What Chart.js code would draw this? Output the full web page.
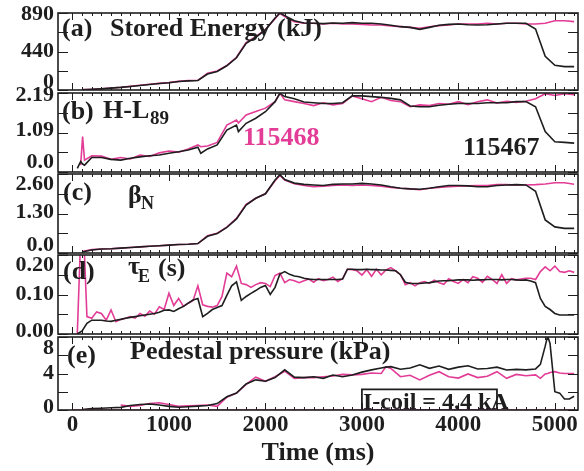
<!DOCTYPE html>
<html>
<head>
<meta charset="utf-8">
<script src="https://cdn.jsdelivr.net/npm/chart.js@4.4.1/dist/chart.umd.min.js"></script>
<style>
  body { margin: 0; background: #fff; }
  #wrap { position: relative; width: 584px; height: 471px; overflow: hidden;
          font-family: "Liberation Serif", "Times New Roman", serif; font-weight: bold; color: #1e1e1e; }
  #wrap canvas { position: absolute; left: 0; }
  .note { position: absolute; white-space: nowrap; line-height: 1; }
</style>
</head>
<body>
<div id="wrap">
  <canvas id="pa" width="584" height="109" style="top:-3px"></canvas>
  <canvas id="pb" width="584" height="111" style="top:77px"></canvas>
  <canvas id="pc" width="584" height="111" style="top:158px"></canvas>
  <canvas id="pd" width="584" height="111" style="top:239px"></canvas>
  <canvas id="pe" width="584" height="150" style="top:321px"></canvas>
</div>
<script>
// shot 115467 (black) and 115468 (magenta)
const timeA = [100,200,300,400,500,600,700,800,900,1000,1100,1200,1300,1400,1500,1600,1700,1800,1900,2000,
  2100,2150,2200,2300,2400,2500,2600,2700,2800,2900,3000,3100,3200,3300,3400,3500,3600,3700,3800,3900,
  4000,4100,4200,4300,4400,4500,4600,4700,4800,4900,5000,5100,5200];

// (a) stored energy, kJ
const energy115467 = [3,8,14,22,30,41,52,64,75,84,98,106,110,185,215,280,372,540,610,695,
  832,890,860,800,775,771,767,775,771,779,771,771,763,748,732,724,701,724,748,759,
  763,755,751,755,763,771,771,771,705,390,285,270,270];
const energy115468 = [5,8,15,23,31,42,54,66,77,85,100,108,112,193,220,285,378,547,616,700,
  825,887,848,790,771,771,763,771,763,763,759,751,751,740,732,724,713,732,744,751,
  763,763,763,771,763,771,771,763,763,771,801,801,790];

// (b) H-L89
const timeB = [50,85,105,125,200,300,400,500,600,700,800,900,1000,1100,1200,1300,1330,1400,1500,1600,1700,1720,
  1800,1900,2000,2100,2150,2200,2300,2400,2500,2600,2700,2800,2900,3000,3100,3200,3300,3400,3500,3600,3700,
  3800,3900,4000,4100,4200,4300,4400,4500,4600,4700,4800,4900,5000,5100,5200];
const hl89_115467 = [0.10,0.29,0.22,0.19,0.40,0.40,0.35,0.33,0.38,0.42,0.45,0.47,0.52,0.56,0.61,0.69,0.52,
  0.64,0.75,1.16,1.30,1.12,1.35,1.49,1.67,1.95,2.18,2.09,2.03,1.94,1.92,1.90,1.90,1.92,2.11,2.11,2.09,
  2.07,2.04,2.00,1.83,1.81,1.81,1.85,1.88,1.90,1.90,1.90,1.92,1.92,1.92,1.95,1.95,1.81,1.12,0.84,0.82,0.80];
const hl89_115468 = [null,0.19,0.98,0.33,0.45,0.44,0.35,0.40,0.36,0.47,0.43,0.53,0.58,0.55,0.64,0.75,0.70,
  0.72,0.82,1.30,1.44,1.36,1.58,1.68,1.77,1.95,2.18,2.00,1.95,1.90,1.84,1.92,1.86,1.90,2.11,2.03,1.95,
  2.07,1.98,1.95,1.81,1.86,1.84,1.90,1.88,1.95,1.87,1.95,2.00,1.91,1.96,1.93,1.96,2.03,2.17,2.12,2.17,2.14];

// (c) beta_N
const betaN115467 = [0.03,0.10,0.13,0.14,0.16,0.18,0.20,0.22,0.24,0.26,0.28,0.29,0.31,0.55,0.64,0.84,1.12,1.58,1.80,1.95,
  2.40,2.58,2.42,2.30,2.26,2.24,2.22,2.26,2.27,2.27,2.29,2.27,2.24,2.18,2.13,2.11,2.10,2.13,2.18,2.22,
  2.22,2.21,2.18,2.18,2.22,2.24,2.25,2.24,2.03,1.09,0.86,0.81,0.81];
const betaN115468 = [0.05,0.11,0.13,0.14,0.16,0.18,0.20,0.22,0.24,0.26,0.28,0.29,0.31,0.57,0.65,0.85,1.14,1.60,1.80,1.95,
  2.38,2.55,2.40,2.28,2.22,2.18,2.20,2.22,2.24,2.22,2.24,2.22,2.20,2.16,2.13,2.11,2.08,2.13,2.16,2.18,
  2.20,2.21,2.22,2.22,2.25,2.25,2.24,2.24,2.25,2.27,2.31,2.31,2.26];

// (d) tau_E, s
const timeD = [50,100,150,200,250,300,350,400,450,500,550,600,650,700,750,800,850,900,950,1000,
  1050,1100,1150,1200,1250,1300,1350,1400,1450,1500,1550,1600,1650,1700,1750,1800,1850,1900,1950,2000,
  2050,2100,2150,2200,2250,2300,2350,2400,2450,2500,2550,2600,2650,2700,2750,2800,2850,2900,2950,3000,
  3050,3100,3150,3200,3250,3300,3350,3400,3450,3500,3550,3600,3650,3700,3750,3800,3850,3900,3950,4000,
  4050,4100,4150,4200,4250,4300,4350,4400,4450,4500,4550,4600,4650,4700,4750,4800,4850,4900,4950,5000,
  5050,5100,5150,5200];
const tauE115467 = [0.000,0.008,0.027,0.035,0.035,0.035,0.033,0.032,0.035,0.037,
  0.040,0.042,0.044,0.046,0.048,0.050,0.052,0.055,0.060,0.061,
  0.057,0.064,0.070,0.078,0.086,0.090,0.044,0.052,0.062,0.067,
  0.072,0.098,0.122,0.132,0.085,0.095,0.103,0.110,0.118,0.123,
  0.100,0.118,0.152,0.158,0.151,0.147,0.145,0.141,0.139,0.138,
  0.138,0.138,0.138,0.138,0.138,0.139,0.164,0.164,0.163,0.163,
  0.164,0.163,0.163,0.162,0.162,0.161,0.160,0.150,0.131,0.128,
  0.128,0.128,0.129,0.130,0.132,0.134,0.135,0.135,0.136,0.137,
  0.137,0.137,0.136,0.137,0.137,0.138,0.138,0.138,0.137,0.138,
  0.138,0.137,0.136,0.137,0.134,0.130,0.090,0.070,0.062,0.052,
  0.048,0.048,0.048,0.048];
const tauE115468 = [0.000,0.350,0.044,0.040,0.056,0.052,0.035,0.061,0.031,0.037,
  0.040,0.044,0.040,0.052,0.045,0.058,0.050,0.069,0.062,0.103,
  0.072,0.090,0.070,0.078,0.085,0.122,0.074,0.070,0.068,0.072,
  0.095,0.154,0.145,0.172,0.128,0.125,0.118,0.125,0.130,0.128,
  0.120,0.148,0.154,0.130,0.138,0.135,0.130,0.135,0.139,0.131,
  0.140,0.135,0.138,0.144,0.133,0.140,0.164,0.163,0.160,0.149,
  0.163,0.146,0.164,0.150,0.162,0.168,0.160,0.150,0.125,0.130,
  0.122,0.130,0.133,0.128,0.136,0.130,0.126,0.140,0.133,0.128,
  0.138,0.130,0.145,0.141,0.131,0.146,0.138,0.128,0.150,0.128,
  0.140,0.137,0.139,0.141,0.141,0.138,0.158,0.170,0.160,0.172,
  0.158,0.156,0.160,0.156];

// (e) pedestal pressure, kPa
const timeE = [100,200,300,400,500,600,700,800,900,1000,1100,1200,1300,1400,1500,1600,1700,1800,1900,2000,
  2100,2200,2300,2400,2500,2600,2700,2800,2900,3000,3100,3200,3250,3300,3400,3500,3600,3700,3800,3900,
  4000,4100,4200,4300,4400,4500,4600,4700,4800,4850,4900,4925,4950,5000,5050,5100,5150,5200];
const pped115467 = [0.05,0.15,0.20,0.25,0.29,0.50,0.60,0.66,0.55,0.40,0.30,0.35,0.42,0.50,0.70,1.45,1.85,2.85,3.30,3.15,
  3.55,4.40,3.60,3.55,3.65,3.47,3.84,3.65,3.84,4.15,4.40,4.60,4.70,4.75,4.46,4.60,4.95,4.57,4.82,4.46,
  4.70,4.85,4.50,4.55,4.70,4.38,4.45,4.40,4.50,5.00,7.00,8.10,7.30,2.00,1.85,1.20,1.20,1.50];
const pped115468 = [null,null,null,null,0.55,0.40,0.50,0.72,0.80,0.60,0.40,0.45,0.50,0.55,0.40,1.40,1.85,2.80,3.60,3.15,
  3.65,4.25,3.45,3.55,3.55,3.65,3.73,3.90,3.85,3.90,4.05,4.00,4.75,4.55,3.65,3.80,3.30,3.80,4.20,3.65,
  3.50,3.95,3.55,3.70,4.20,3.47,3.90,3.75,3.85,3.47,3.95,4.00,4.10,4.20,4.05,4.00,4.00,4.00];
// I-coil trace, drawn in the pressure panel's units
const iCoilTime115467 = [3000,3000,4400,4400,3000];
const iCoil115467 = [0,2.25,2.25,0,0];
const iCoilTime115468 = [0,5200];
const iCoil115468 = [0,0];

// axis ticks
const xTicks = [0,1000,2000,3000,4000,5000];
const yTicksA = [0,222.5,445,667.5,890];   const yLabelsA = ['0','','440','','890'];
const yTicksB = [0,0.5475,1.095,1.6425,2.19]; const yLabelsB = ['0.0','','1.09','','2.19'];
const yTicksC = [0,0.65,1.3,1.95,2.6];     const yLabelsC = ['0.0','','1.30','','2.60'];
const yTicksD = [0,0.05,0.1,0.15,0.2];     const yLabelsD = ['0.00','','0.10','','0.20'];
const yTicksE = [0,2,4,6,8];               const yLabelsE = ['0','','4','','8'];

const PINK = '#e23c96';
const INK = '#1e1e1e';
const FONT = 'Liberation Serif';

function pts(t, v) {
  return t.map((x, i) => ({x: x, y: v[i]}));
}

// frame, inward ticks and nudged y labels for one panel
function framePlugin(yTicks, yLabels, nudge) {
  return {
    id: 'frame',
    afterDatasetsDraw(chart) {
      const {ctx, chartArea: a, scales: {x, y}} = chart;
      ctx.save();
      ctx.strokeStyle = INK;
      ctx.lineWidth = 1.6;
      ctx.strokeRect(a.left, a.top, a.right - a.left, a.bottom - a.top);
      ctx.lineWidth = 1;
      ctx.beginPath();
      for (let t = 0; t <= 5200; t += 100) {
        const px = Math.round(x.getPixelForValue(t)) + 0.5;
        const len = t % 1000 === 0 ? 7 : 3;
        ctx.moveTo(px, a.top); ctx.lineTo(px, a.top + len);
        ctx.moveTo(px, a.bottom); ctx.lineTo(px, a.bottom - len);
      }
      yTicks.forEach(v => {
        const py = Math.round(y.getPixelForValue(v)) + 0.5;
        ctx.moveTo(a.left, py); ctx.lineTo(a.left + 10, py);
        ctx.moveTo(a.right, py); ctx.lineTo(a.right - 10, py);
      });
      ctx.stroke();
      ctx.fillStyle = INK;
      ctx.font = 'bold 22px "' + FONT + '"';
      ctx.textAlign = 'right';
      ctx.textBaseline = 'middle';
      yTicks.forEach((v, i) => {
        if (!yLabels[i]) return;
        ctx.fillText(yLabels[i], a.left - 4, y.getPixelForValue(v) + nudge[i]);
      });
      ctx.restore();
    }
  };
}

function makePanel(id, cfg) {
  const showX = !!cfg.showX;
  return new Chart(document.getElementById(id), {
    type: 'line',
    data: {
      datasets: cfg.series.map(s => ({
        data: pts(s.t, s.v),
        borderColor: s.color,
        borderWidth: s.width || 1.6,
        pointRadius: 0,
        tension: 0,
        spanGaps: false
      }))
    },
    options: {
      responsive: false,
      animation: false,
      events: [],
      layout: {padding: {left: 0, right: 6, top: 16, bottom: showX ? 0 : 16}},
      scales: {
        x: {
          type: 'linear', min: -150, max: 5240,
          display: showX,
          afterBuildTicks: s => { s.ticks = xTicks.map(v => ({value: v})); },
          afterFit: s => { if (showX) s.height = 61; },
          grid: {display: false, drawTicks: false},
          border: {display: false},
          ticks: {
            color: INK, padding: 1, maxRotation: 0, autoSkip: false,
            font: {family: FONT, weight: 'bold', size: 23},
            callback: v => String(v)
          },
          title: {
            display: showX, text: 'Time (ms)', color: INK,
            font: {family: FONT, weight: 'bold', size: 26},
            padding: {top: 0, bottom: 2}
          }
        },
        y: {
          min: cfg.yMin, max: cfg.yMax,
          afterFit: s => { s.width = 58; },
          ticks: {display: false},
          grid: {display: false, drawTicks: false},
          border: {display: false}
        }
      },
      plugins: {legend: {display: false}, tooltip: {enabled: false}}
    },
    plugins: [framePlugin(cfg.yTicks, cfg.yLabels, cfg.nudge)]
  });
}

makePanel('pa', {
  yMin: 0, yMax: 890, yTicks: yTicksA, yLabels: yLabelsA, nudge: [-8, 0, 0, 0, 1],
  series: [{t: timeA, v: energy115467, color: INK}, {t: timeA, v: energy115468, color: PINK}]
});
makePanel('pb', {
  yMin: 0, yMax: 2.19, yTicks: yTicksB, yLabels: yLabelsB, nudge: [-10, 0, -2, 0, 2],
  series: [{t: timeB, v: hl89_115467, color: INK}, {t: timeB, v: hl89_115468, color: PINK}]
});
makePanel('pc', {
  yMin: 0, yMax: 2.6, yTicks: yTicksC, yLabels: yLabelsC, nudge: [-8, 0, -1, 0, 10],
  series: [{t: timeA, v: betaN115467, color: INK}, {t: timeA, v: betaN115468, color: PINK}]
});
makePanel('pd', {
  yMin: 0, yMax: 0.2, yTicks: yTicksD, yLabels: yLabelsD, nudge: [-3, 0, 0, 0, 10],
  series: [{t: timeD, v: tauE115467, color: INK}, {t: timeD, v: tauE115468, color: PINK}]
});
makePanel('pe', {
  showX: true,
  yMin: 0, yMax: 8, yTicks: yTicksE, yLabels: yLabelsE, nudge: [-3, 0, 0, 0, 11],
  series: [
    {t: iCoilTime115468, v: iCoil115468, color: PINK},
    {t: iCoilTime115467, v: iCoil115467, color: INK, width: 1.8},
    {t: timeE, v: pped115467, color: INK},
    {t: timeE, v: pped115468, color: PINK}
  ]
});

// panel annotations: [text, left x, baseline y, font px, colour]
const notes = [
  ['(a)', 62, 37, 26, INK], ['Stored Energy (kJ)', 110, 37, 26, INK],
  ['(b)', 62, 120, 26, INK], ['H-L', 103, 119, 26, INK], ['89', 150, 124, 19, INK],
  ['115468', 243, 146, 26, PINK], ['115467', 463, 156, 26, INK],
  ['(c)', 63, 201, 26, INK], ['\u03b2', 128, 204, 26, INK], ['N', 141, 209, 18, INK],
  ['(d)', 63, 280, 26, INK], ['\u03c4', 128, 275, 26, INK], ['E', 138, 282, 18, INK], ['(s)', 158, 277, 26, INK],
  ['(e)', 67, 364, 26, INK], ['Pedestal pressure (kPa)', 130, 360, 26, INK],
  ['I-coil = 4.4 kA', 363, 409, 24, INK]
];
const wrap = document.getElementById('wrap');
notes.forEach(([text, x, base, size, color]) => {
  const d = document.createElement('div');
  d.className = 'note';
  d.textContent = text;
  d.style.left = x + 'px';
  d.style.top = (base - 0.8375 * size) + 'px';
  d.style.fontSize = size + 'px';
  d.style.color = color;
  wrap.appendChild(d);
});
</script>
</body>
</html>
